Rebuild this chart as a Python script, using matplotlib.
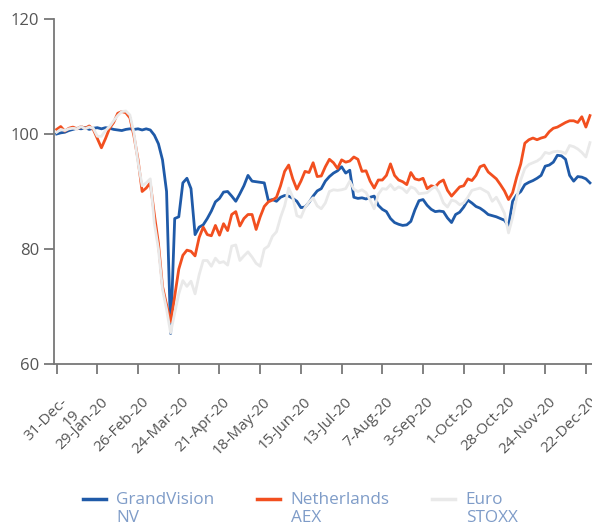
import numpy as np
import matplotlib
matplotlib.use("Agg")
from matplotlib import pyplot as plt
from matplotlib.lines import Line2D
from matplotlib.legend_handler import HandlerLine2D
from matplotlib.transforms import ScaledTranslation

# Index values, rebased to 100 on 31-Dec-19, sampled every second trading day
grandvision = [
    100.0, 100.2, 100.3, 100.6, 100.8, 101.0, 100.9, 101.1, 100.8, 101.0,
    101.1, 100.9, 101.1, 101.0, 100.8, 100.7, 100.6, 100.8, 100.9, 100.8,
    100.9, 100.7, 100.9, 100.7, 99.8, 98.3, 95.5, 90.0, 65.3, 85.3,
    85.6, 91.5, 92.3, 90.5, 82.5, 83.8, 84.2, 85.3, 86.6, 88.2,
    88.8, 89.9, 90.0, 89.2, 88.3, 89.6, 91.0, 92.8, 91.8, 91.7,
    91.6, 91.5, 88.4, 88.6, 88.3, 89.0, 89.3, 89.2, 88.8, 88.3,
    87.2, 87.3, 88.1, 89.2, 90.1, 90.5, 91.8, 92.6, 93.2, 93.6,
    94.3, 93.2, 93.7, 89.0, 88.8, 88.9, 88.7, 89.0, 89.2, 87.6,
    86.9, 86.5, 85.3, 84.6, 84.3, 84.1, 84.2, 84.8, 86.8, 88.4,
    88.6, 87.6, 86.9, 86.5, 86.6, 86.5, 85.4, 84.6, 86.0, 86.4,
    87.3, 88.5, 88.0, 87.4, 87.1, 86.6, 86.0, 85.8, 85.6, 85.3,
    85.0, 84.0, 88.3, 89.4, 90.0, 91.2, 91.6, 91.9, 92.3, 92.8,
    94.4, 94.6, 95.1, 96.3, 96.2, 95.6, 92.8, 91.8, 92.6, 92.5,
    92.2, 91.5,
]
aex = [
    100.8, 101.3, 100.5, 101.0, 101.2, 100.9, 101.3, 101.0, 101.4, 100.8,
    99.2, 97.6, 99.2, 101.0, 102.0, 103.6, 103.9, 103.7, 102.8, 99.6,
    95.5, 90.0, 90.6, 91.5, 86.0, 81.0, 73.5, 70.3, 67.3, 71.8,
    76.5, 78.9, 79.8, 79.6, 78.8, 82.0, 83.8, 82.5, 82.3, 84.1,
    82.4, 84.4, 83.2, 86.0, 86.5, 84.0, 85.3, 86.0, 86.0, 83.4,
    85.6, 87.4, 88.2, 88.5, 89.0, 91.0, 93.5, 94.6, 92.2, 90.4,
    91.8, 93.5, 93.3, 95.0, 92.6, 92.7, 94.3, 95.6, 95.0, 94.0,
    95.5, 95.1, 95.3, 96.0, 95.6, 93.5, 93.6, 91.8, 90.6, 92.0,
    92.0, 92.8, 94.8, 92.8, 92.0, 91.7, 91.2, 93.3, 92.2, 92.0,
    92.3, 90.5, 91.0, 90.8, 91.6, 92.0, 90.2, 89.2, 90.0, 90.8,
    91.0, 92.2, 91.9, 92.8, 94.3, 94.6, 93.4, 92.8, 92.2, 91.2,
    90.1, 88.6, 89.8, 92.5, 94.8, 98.4, 99.0, 99.3, 99.0, 99.3,
    99.5, 100.4, 101.0, 101.2, 101.6, 102.0, 102.3, 102.3, 102.0, 103.0,
    101.2, 103.2,
]
eurostoxx = [
    100.3, 100.8, 100.6, 100.9, 101.0, 100.9, 101.3, 100.9, 101.2, 101.0,
    99.6, 99.6, 100.6, 101.3, 102.3, 103.2, 103.9, 104.0, 103.3, 100.1,
    95.0, 91.0, 91.5, 92.2, 84.5, 80.0, 73.0, 69.5, 65.4, 68.9,
    72.2, 74.5, 73.5, 74.4, 72.2, 75.5, 78.0, 78.0, 77.0, 78.4,
    77.6, 77.8, 77.2, 80.5, 80.7, 78.0, 78.8, 79.5, 78.6, 77.5,
    77.0, 80.0, 80.5, 82.2, 83.0, 85.5, 87.5, 90.6, 89.0, 85.8,
    85.5, 87.2, 88.2, 88.9, 87.5, 87.0, 88.0, 90.0, 90.3, 90.2,
    90.3, 90.5, 91.8, 90.4, 90.0, 90.3, 89.8, 88.5, 87.0, 89.5,
    90.5, 90.4, 91.2, 90.3, 90.8, 90.5, 89.8, 90.8, 90.5, 89.6,
    89.7, 89.8, 90.4, 90.9, 89.8, 88.0, 87.3, 88.5, 88.3, 87.7,
    88.0, 89.0, 90.2, 90.4, 90.6, 90.2, 89.8, 88.3, 89.0, 87.7,
    86.2, 82.8, 85.5, 88.9, 92.0, 94.0, 94.7, 95.0, 95.3, 95.8,
    96.8, 96.6, 96.9, 97.0, 96.9, 96.6, 98.0, 97.8, 97.4, 96.8,
    96.0, 98.5,
]
date_labels = [
    "31-Dec-\n19", "29-Jan-20", "26-Feb-20", "24-Mar-20", "21-Apr-20",
    "18-May-20", "15-Jun-20", "13-Jul-20", "7-Aug-20", "3-Sep-20",
    "1-Oct-20", "28-Oct-20", "24-Nov-20", "22-Dec-20",
]
series_names = ["GrandVision\nNV", "Netherlands\nAEX", "Euro\nSTOXX"]


class TopLineHandler(HandlerLine2D):
    # put the legend line level with the first line of a two-line label
    def create_artists(self, legend, orig_handle, xdescent, ydescent,
                       width, height, fontsize, trans):
        return super().create_artists(legend, orig_handle, xdescent, ydescent - 14,
                                      width, height, fontsize, trans)


plt.rcParams["font.family"] = ["Open Sans", "DejaVu Sans"]

days = np.arange(len(grandvision)) * 2
tick_days = np.arange(len(date_labels)) * 20

fig = plt.figure(figsize=(5.92, 5.29), dpi=100)
ax = fig.add_axes([54 / 592, 165 / 529, 538 / 592, 345 / 529])

ax.plot(days, grandvision, color="#1f5aa8", lw=2.0, label=series_names[0], zorder=3)
ax.plot(days, aex, color="#f24f1f", lw=2.0, label=series_names[1], zorder=4)
ax.plot(days, eurostoxx, color="#e9e9e9", lw=2.0, label=series_names[2], zorder=5)

ax.set_xlim(-1.3, 263)
ax.set_ylim(60, 120)
ax.set_yticks([60, 80, 100, 120])
ax.set_xticks(tick_days)
ax.set_xticklabels(date_labels, rotation=45, ha="right", va="top",
                   rotation_mode="anchor", multialignment="right", fontsize=11)

for side in ["top", "right"]:
    ax.spines[side].set_visible(False)
for side in ["left", "bottom"]:
    ax.spines[side].set_color("#777777")
    ax.spines[side].set_linewidth(1.3)
ax.tick_params(axis="both", colors="#777777", length=7, width=1.3,
               labelcolor="#555555")
ax.tick_params(axis="y", labelsize=12)
ax.tick_params(axis="x", pad=15)

# nudge the rotated date labels to the right of their ticks
shift = ScaledTranslation(0.03, 0, fig.dpi_scale_trans)
for lbl in ax.get_xticklabels():
    lbl.set_transform(lbl.get_transform() + shift)

leg = fig.legend(loc="upper left", bbox_to_anchor=(83 / 592, 1 - 492 / 529), ncol=3,
                 frameon=False, fontsize=12.3, handlelength=1.35, handletextpad=0.6,
                 columnspacing=2.5, borderpad=0, borderaxespad=0,
                 labelcolor="#7f9cc8", handler_map={Line2D: TopLineHandler()})
for line in leg.get_lines():
    line.set_linewidth(2.5)

fig.savefig("out.png", dpi=100)
